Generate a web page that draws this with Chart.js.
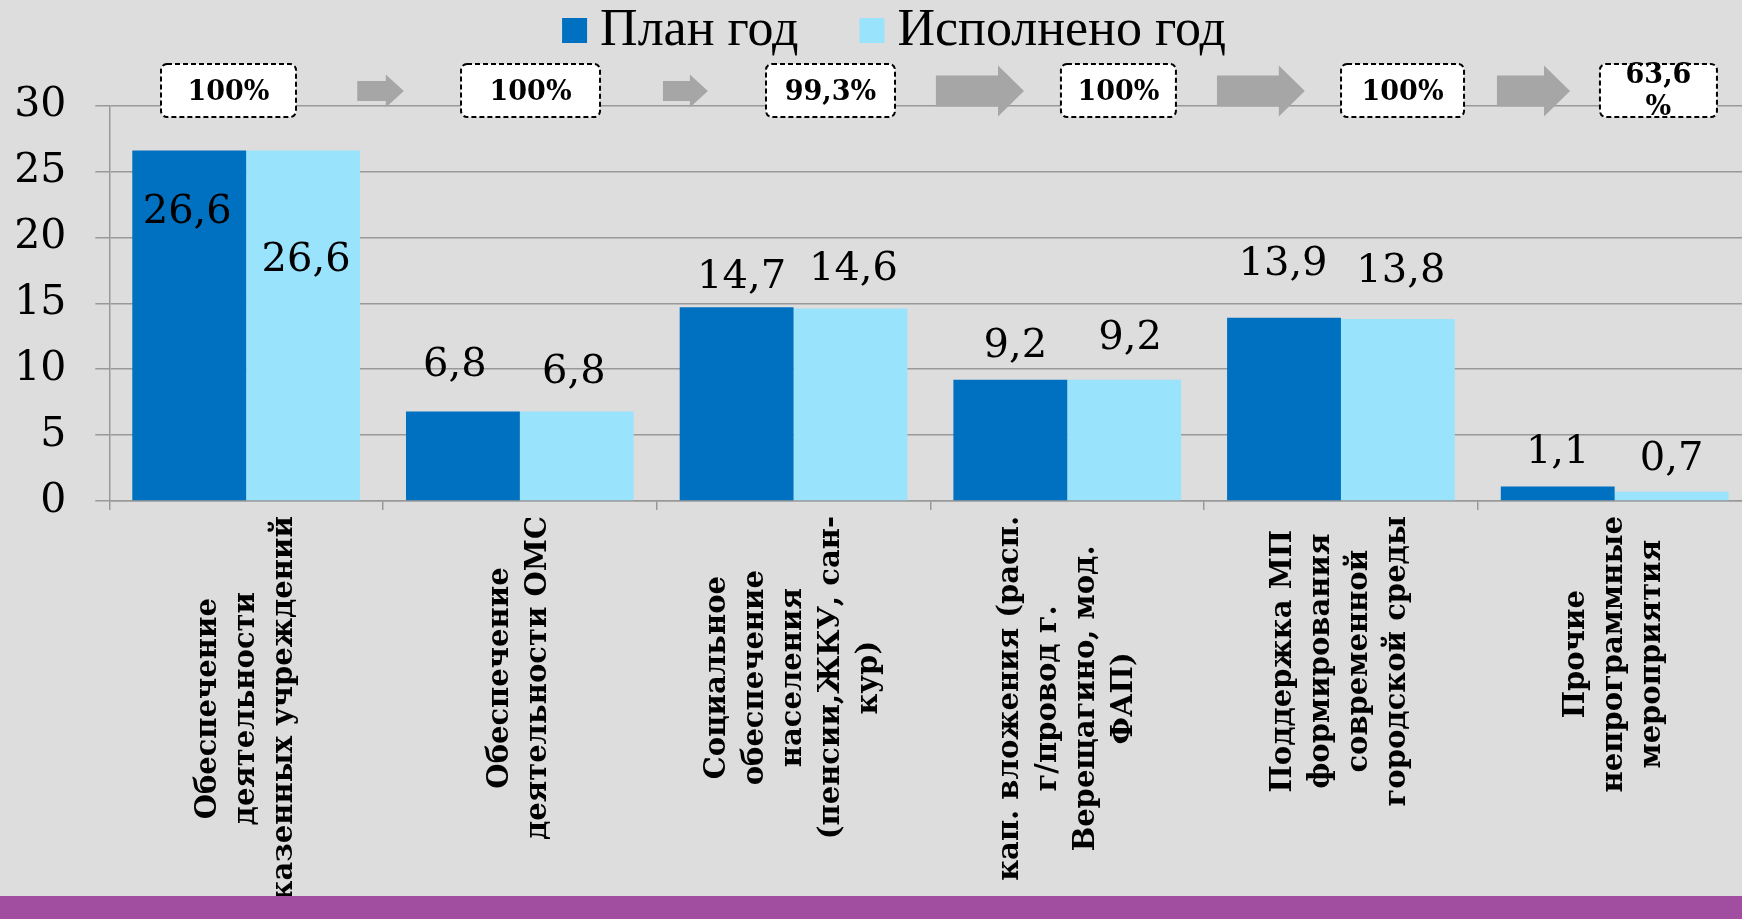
<!DOCTYPE html>
<html><head><meta charset="utf-8">
<script src="https://cdn.jsdelivr.net/npm/chart.js@4.4.1/dist/chart.umd.min.js"></script>
<style>
html,body{margin:0;padding:0;background:#DDDDDD;overflow:hidden;width:1742px;height:919px;}
#wrap{position:relative;width:1760px;height:919px;}
#band{position:absolute;left:0;top:896px;width:1760px;height:23px;background:#A14DA0;}
canvas{display:block;}
</style></head><body>
<div id="wrap"><canvas id="c" width="1760" height="919" style="width:1760px;height:919px"></canvas><div id="band"></div></div>
<script>
// ---- data ----
const categories = [
  ['Обеспечение', 'деятельности', 'казенных учреждений'],
  ['Обеспечение', 'деятельности ОМС'],
  ['Социальное', 'обеспечение', 'населения', '(пенсии,ЖКУ, сан-', 'кур)'],
  ['кап. вложения (расп.', 'г/провод г.', 'Верещагино, мод.', 'ФАП)'],
  ['Поддержка МП', 'формирования', 'современной', 'городской среды'],
  ['Прочие', 'непрограммные', 'мероприятия']
];
const seriesNames = ['План год', 'Исполнено год'];
const planValues = [26.6, 6.8, 14.7, 9.2, 13.9, 1.1];
const doneValues = [26.6, 6.8, 14.6, 9.2, 13.8, 0.7];
const yTicks = [0, 5, 10, 15, 20, 25, 30];
const percentLabels = [['100%'], ['100%'], ['99,3%'], ['100%'], ['100%'], ['63,6', '%']];

// ---- styling / annotation placement ----
const colors = ['#0070C0', '#99E3FC'];
const labelDx = [[-2, -8, 5, 5, -1, 0], [3, -3, 3, 6, 3, 0]];
const labelDy = [[73, -35, -19, -23, -43, -24], [121, -28, -29, -31, -37, -22]];
const boxCenters = [0.4355, 1.539, 2.635, 3.687, 4.725, 5.660]; // in category units
const boxWidths = [135, 139, 129, 115, 123, 117];
const arrows = [[0.906, 1.076, 0], [2.023, 2.187, 0], [3.02, 3.342, 1], [4.047, 4.368, 1], [5.07, 5.337, 1]];

const valueFont = '40px "DejaVu Serif"';
const fmt = v => v.toFixed(1).replace('.', ',');

const decorPlugin = {
  id: 'decor',
  afterDraw(chart) {
    const ctx = chart.ctx;
    const xs = chart.scales.x;
    const catW = xs.width / categories.length;
    const ux = u => xs.left + u * catW;
    ctx.save();
    // value labels
    ctx.font = valueFont;
    ctx.fillStyle = '#000';
    ctx.textAlign = 'center';
    ctx.textBaseline = 'alphabetic';
    chart.data.datasets.forEach((ds, di) => {
      const meta = chart.getDatasetMeta(di);
      meta.data.forEach((el, j) => {
        ctx.fillText(fmt(ds.data[j]), el.x + labelDx[di][j], el.y + labelDy[di][j]);
      });
    });
    // category labels (rotated, lines centered)
    ctx.font = 'bold 29px "DejaVu Serif"';
    const lineH = 38, labelTop = 516;
    categories.forEach((lines, i) => {
      const cx = xs.getPixelForValue(i);
      const maxW = Math.max(...lines.map(l => ctx.measureText(l).width));
      const cy = labelTop + maxW / 2;
      const n = lines.length;
      lines.forEach((l, k) => {
        const lx = cx + (k - (n - 1) / 2) * lineH;
        ctx.save();
        ctx.translate(lx, cy);
        ctx.rotate(-Math.PI / 2);
        ctx.textAlign = 'center';
        ctx.textBaseline = 'middle';
        ctx.fillText(l, 0, 0);
        ctx.restore();
      });
    });
    // arrows
    ctx.fillStyle = '#A6A6A6';
    const cyA = 91;
    arrows.forEach(([a, b, big]) => {
      const x0 = ux(a), x1 = ux(b);
      const headL = big ? 26 : 18, headH = big ? 51 : 33, shaftH = big ? 31 : 20;
      const xh = x1 - headL;
      ctx.beginPath();
      ctx.moveTo(x0, cyA - shaftH / 2);
      ctx.lineTo(xh, cyA - shaftH / 2);
      ctx.lineTo(xh, cyA - headH / 2);
      ctx.lineTo(x1, cyA);
      ctx.lineTo(xh, cyA + headH / 2);
      ctx.lineTo(xh, cyA + shaftH / 2);
      ctx.lineTo(x0, cyA + shaftH / 2);
      ctx.closePath();
      ctx.fill();
    });
    // percent boxes
    const by0 = 64, bh = 53;
    percentLabels.forEach((lines, i) => {
      const cx = ux(boxCenters[i]);
      const w = boxWidths[i];
      ctx.beginPath();
      ctx.roundRect(cx - w / 2, by0, w, bh, 6);
      ctx.fillStyle = '#FFFFFF';
      ctx.fill();
      ctx.setLineDash([5, 3]);
      ctx.lineWidth = 2;
      ctx.strokeStyle = '#000';
      ctx.stroke();
      ctx.setLineDash([]);
      ctx.fillStyle = '#000';
      ctx.font = 'bold 27px "DejaVu Serif"';
      ctx.textAlign = 'center';
      ctx.textBaseline = 'alphabetic';
      if (lines.length === 1) {
        ctx.fillText(lines[0], cx, 100);
      } else {
        ctx.fillText(lines[0], cx, 83);
        ctx.fillText(lines[1], cx, 115);
      }
    });
    // legend
    ctx.font = '52px "Liberation Serif"';
    const box = 25, gapT = 13, gapItem = 61;
    const widths = seriesNames.map(s => ctx.measureText(s).width);
    const total = widths.reduce((a, w) => a + box + gapT + w, 0) + gapItem * (seriesNames.length - 1);
    let lx = 894 - total / 2;
    ctx.textAlign = 'left';
    ctx.textBaseline = 'alphabetic';
    seriesNames.forEach((s, i) => {
      ctx.fillStyle = colors[i];
      ctx.fillRect(lx, 18, box, box);
      ctx.fillStyle = '#000';
      ctx.fillText(s, lx + box + gapT, 45);
      lx += box + gapT + widths[i] + gapItem;
    });
    ctx.restore();
  }
};

new Chart(document.getElementById('c'), {
  type: 'bar',
  data: {
    labels: categories.map(c => c.join(' ')),
    datasets: [
      { label: seriesNames[0], data: planValues, backgroundColor: colors[0], categoryPercentage: 0.832, barPercentage: 1.0 },
      { label: seriesNames[1], data: doneValues, backgroundColor: colors[1], categoryPercentage: 0.832, barPercentage: 1.0 }
    ]
  },
  options: {
    responsive: false,
    animation: false,
    devicePixelRatio: 1,
    layout: { padding: { top: 105.6, right: 8.5, left: 0, bottom: 0 } },
    plugins: { legend: { display: false }, tooltip: { enabled: false } },
    scales: {
      x: {
        offset: true,
        grid: { offset: true, drawOnChartArea: false, drawTicks: true, tickLength: 9, color: '#999999', lineWidth: 1.5 },
        border: { display: true, color: '#999999', width: 1.5 },
        ticks: { display: false },
        afterFit(s) { s.height = 418; }
      },
      y: {
        min: yTicks[0], max: yTicks[yTicks.length - 1],
        ticks: { stepSize: yTicks[1] - yTicks[0], font: { family: 'DejaVu Serif', size: 41 }, color: '#000', padding: 29 },
        grid: { color: '#999999', lineWidth: 1.5, tickLength: 14, drawTicks: true },
        border: { display: true, color: '#999999', width: 1.5 },
        afterFit(s) { s.width = 109.3; }
      }
    }
  },
  plugins: [decorPlugin]
});
</script>
</body></html>
